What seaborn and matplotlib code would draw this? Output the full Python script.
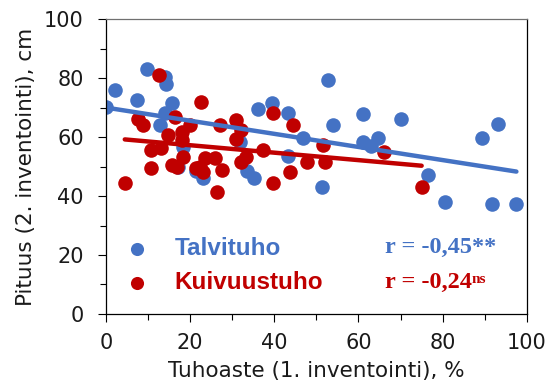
import seaborn as sns
import matplotlib.pyplot as plt
import matplotlib.ticker as ticker

# Talvituho (winter damage)
talvi_x = [0, 2.1, 7.4, 9.7, 14, 14.3, 15.7, 14, 12.8, 18.3, 17.1, 21.4, 23, 31.8, 33.5,
           35.2, 36.1, 39.4, 43.2, 43.2, 46.8, 51.3, 52.7, 53.9, 61, 61.1, 63, 64.7,
           70, 76.4, 80.5, 89.4, 91.8, 93.2, 97.5]
talvi_y = [70.3, 75.9, 72.5, 83.2, 80.3, 78, 71.5, 68, 64, 56.5, 50, 48.5, 46, 58.4, 48.5,
           46, 69.5, 71.5, 68.1, 53.6, 59.7, 43, 79.3, 64.1, 67.8, 58.4, 57, 59.6,
           66.3, 47.1, 38.1, 59.6, 37.3, 64.6, 37.3]

# Kuivuustuho (drought damage)
kuiva_x = [12.7, 22.5, 7.7, 8.9, 16.4, 19.9, 14.8, 18, 18, 13.2, 10.8, 18.4, 15.6, 16.8,
           10.8, 4.5, 21.5, 27.1, 31, 32.2, 31, 39.7, 37.4, 25.9, 23.5, 22.3, 23.1,
           27.5, 32.2, 33.4, 26.3, 39.7, 44.5, 51.6, 47.7, 52, 43.7, 66, 75]
kuiva_y = [81, 72, 66.3, 64, 66.9, 64, 60.7, 61.8, 59, 56.2, 55.6, 53.3, 50.5, 50,
           49.4, 44.3, 49.4, 64, 65.8, 62.4, 59.5, 68, 55.6, 52.8, 52.8, 50, 48.3,
           48.8, 51.6, 53.4, 41.5, 44.3, 64, 57.3, 51.6, 51.6, 48.3, 55, 43.2]

sarjat = ["Talvituho", "Kuivuustuho"]
r_tekstit = ["r = -0,45**", "r = -0,24"]
r_ylaindeksi = ["", "ns"]
sininen = "#4472C4"
punainen = "#C00000"

sns.set_style("ticks")
plt.rcParams["font.family"] = ["DejaVu Sans"]

fig, ax = plt.subplots(figsize=(5.57, 3.91), dpi=100)
fig.subplots_adjust(left=0.19, right=0.946, top=0.951, bottom=0.197)

sns.regplot(x=talvi_x, y=talvi_y, ax=ax, ci=None, color=sininen, label=sarjat[0],
            scatter_kws={"s": 110, "alpha": 1, "linewidths": 0},
            line_kws={"lw": 3.2})
sns.regplot(x=kuiva_x, y=kuiva_y, ax=ax, ci=None, color=punainen, label=sarjat[1],
            scatter_kws={"s": 110, "alpha": 1, "linewidths": 0},
            line_kws={"lw": 3.2})

ax.set_xlim(0, 100)
ax.set_ylim(0, 100)
ax.xaxis.set_major_locator(ticker.MultipleLocator(20))
ax.xaxis.set_minor_locator(ticker.MultipleLocator(10))
ax.yaxis.set_major_locator(ticker.MultipleLocator(20))
ax.yaxis.set_minor_locator(ticker.MultipleLocator(10))
ax.tick_params(which="major", length=5.8, width=0.8, color="black", labelsize=15,
               labelcolor="#1a1a1a")
ax.tick_params(axis="y", which="major", pad=10)
ax.tick_params(axis="x", which="major", pad=8)
ax.tick_params(which="minor", length=4.3, width=0.8, color="black")
for s in ax.spines.values():
    s.set_color("black")
    s.set_linewidth(0.9)
ax.spines["top"].set_color("#707070")

ax.set_xlabel("Tuhoaste (1. inventointi), %", fontsize=15.5, labelpad=6, color="#1a1a1a")
ax.set_ylabel("Pituus (2. inventointi), cm", fontsize=15.5, labelpad=6, color="#1a1a1a")

leg = ax.legend(loc="lower left", bbox_to_anchor=(0.045, 0.067), frameon=False,
                prop={"family": "Liberation Sans", "weight": "bold", "size": 17.5},
                handlelength=1.0, handletextpad=1.05, borderpad=0, borderaxespad=0,
                labelspacing=0.45, markerscale=0.9)
for teksti, vari in zip(leg.get_texts(), [sininen, punainen]):
    teksti.set_color(vari)

for i, vari in enumerate([sininen, punainen]):
    t = ax.text(0.663, 0.224 - i * 0.116, r_tekstit[i], transform=ax.transAxes,
                color=vari, fontsize=17.5, fontweight="bold", va="center",
                family="Liberation Serif")
    if r_ylaindeksi[i]:
        ax.annotate(r_ylaindeksi[i], xy=(1, 0.95), xycoords=t, color=vari,
                    fontsize=11, fontweight="bold", va="top", ha="left",
                    family="Liberation Serif")

fig.savefig("out.png", dpi=100)
